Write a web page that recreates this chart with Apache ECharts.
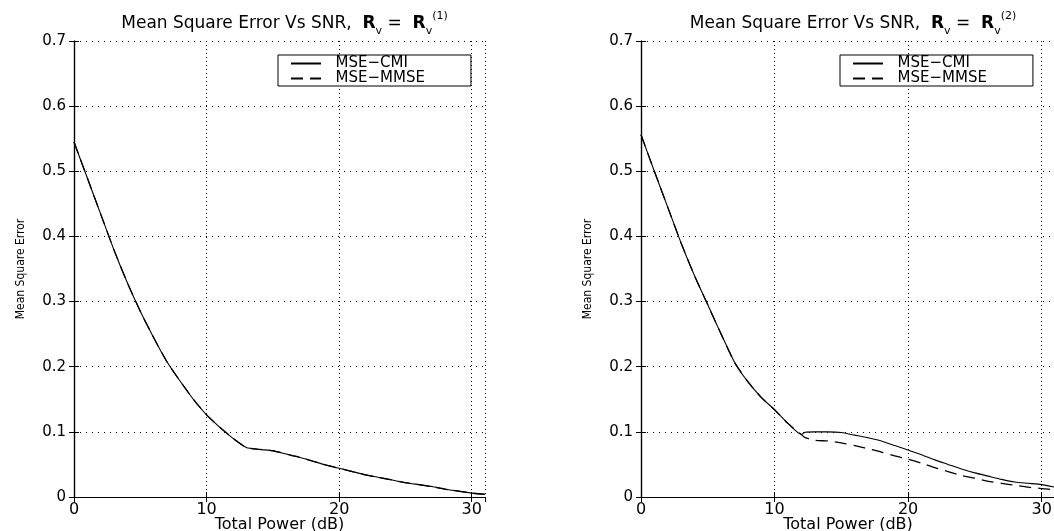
<!DOCTYPE html>
<html>
<head>
<meta charset="utf-8">
<script src="https://cdn.jsdelivr.net/npm/echarts@6/dist/echarts.min.js"></script>
<style>
  html, body { margin: 0; padding: 0; background: #fff; }
  #main { width: 1054px; height: 531px; }
</style>
</head>
<body>
<div id="main"></div>
<script>
// total power (dB) and MSE values
var dbLeft = [0, 1, 2, 3, 4, 5, 6, 7, 8, 9, 10, 11, 12, 13, 14, 15, 16, 17, 18, 19, 20, 21, 22, 23, 24, 25, 26, 27, 28, 29, 30, 31];
var cmiLeft = [0.545, 0.49, 0.435, 0.38, 0.33, 0.285, 0.245, 0.208, 0.178, 0.15, 0.126, 0.107, 0.09, 0.076, 0.073, 0.071, 0.066, 0.061, 0.055, 0.049, 0.044, 0.039, 0.034, 0.030, 0.026, 0.022, 0.019, 0.016, 0.012, 0.009, 0.006, 0.004];
var mmseLeft = [0.545, 0.49, 0.435, 0.38, 0.33, 0.285, 0.245, 0.208, 0.178, 0.15, 0.126, 0.107, 0.09, 0.076, 0.073, 0.071, 0.066, 0.061, 0.055, 0.049, 0.044, 0.039, 0.034, 0.030, 0.026, 0.022, 0.019, 0.016, 0.012, 0.009, 0.006, 0.004];

var dbRight = [0, 1, 2, 3, 4, 5, 6, 7, 8, 9, 10, 11, 12, 12.3, 13, 14, 15, 16, 17, 18, 19, 20, 21, 22, 23, 24, 25, 26, 27, 28, 29, 30, 31];
var cmiRight = [0.556, 0.5, 0.445, 0.39, 0.34, 0.295, 0.25, 0.207, 0.177, 0.153, 0.134, 0.113, 0.096, 0.0995, 0.1, 0.1, 0.099, 0.095, 0.091, 0.086, 0.079, 0.072, 0.065, 0.057, 0.05, 0.043, 0.037, 0.032, 0.027, 0.023, 0.021, 0.019, 0.015];
var mmseRight = [0.556, 0.5, 0.445, 0.39, 0.34, 0.295, 0.25, 0.207, 0.177, 0.153, 0.134, 0.113, 0.096, 0.091, 0.087, 0.086, 0.083, 0.079, 0.074, 0.069, 0.063, 0.058, 0.052, 0.045, 0.039, 0.033, 0.029, 0.024, 0.021, 0.018, 0.015, 0.013, 0.011];

var xTicks = [0, 10, 20, 30];
var seriesNames = ['MSE\u2212CMI', 'MSE\u2212MMSE'];
var supLabels = ['(1)', '(2)'];

var FONT = "'DejaVu Sans', sans-serif";

function pairs(xs, ys) {
  return xs.map(function (x, i) { return [x, ys[i]]; });
}

var chart = echarts.init(document.getElementById('main'), null, { renderer: 'canvas' });

var grids = [
  { left: 74, top: 41, width: 411, height: 456, outerBoundsMode: 'none', containLabel: false },
  { left: 641, top: 41, width: 414, height: 456, outerBoundsMode: 'none', containLabel: false }
];

var xAxes = [], yAxes = [], titles = [], legends = [], series = [];

grids.forEach(function (g, k) {
  // bottom x axis with labels + dotted grid
  xAxes.push({
    gridIndex: k, type: 'value', min: 0, max: 31, interval: 10,
    name: 'Total Power (dB)', nameLocation: 'middle', nameGap: 20, nameMoveOverlap: false,
    nameTextStyle: { color: '#000', fontFamily: FONT, fontSize: 16 },
    axisLine: { lineStyle: { color: '#000', width: 1.2 } },
    axisTick: { inside: true, length: 5, lineStyle: { color: '#000' } },
    axisLabel: {
      color: '#000', fontFamily: FONT, fontSize: 16, margin: 5, showMaxLabel: false,
      formatter: function (v) { return xTicks.indexOf(v) >= 0 ? String(v) : ''; }
    },
    splitLine: { show: true, lineStyle: { color: '#000', type: [1, 3], width: 1 } }
  });
  // top x axis: box edge + ticks only
  xAxes.push({
    gridIndex: k, type: 'value', min: 0, max: 31, interval: 10, position: 'top',
    axisLine: { lineStyle: { color: '#000', width: 1.2 } },
    axisTick: { inside: true, length: 5, lineStyle: { color: '#000' } },
    axisLabel: { show: false }, splitLine: { show: false }
  });
  yAxes.push({
    gridIndex: k, type: 'value', min: 0, max: 0.7, interval: 0.1,
    name: 'Mean Square Error', nameLocation: 'middle', nameGap: 47, nameMoveOverlap: false,
    nameTextStyle: { color: '#000', fontFamily: "'Liberation Sans Narrow', 'DejaVu Sans Condensed', sans-serif", fontSize: 12 },
    axisLine: { lineStyle: { color: '#000', width: 1.2 } },
    axisTick: { inside: true, length: 5, lineStyle: { color: '#000' } },
    axisLabel: {
      color: '#000', fontFamily: FONT, fontSize: 15, margin: 8,
      formatter: function (v) { return v === 0 ? '0' : v.toFixed(1); }
    },
    splitLine: { show: true, lineStyle: { color: '#000', type: [1, 5], width: 1 } }
  });
  yAxes.push({
    gridIndex: k, type: 'value', min: 0, max: 0.7, interval: 0.1, position: 'right',
    axisLine: { lineStyle: { color: '#000', width: 1.2 } },
    axisTick: { inside: true, length: 5, lineStyle: { color: '#000' } },
    axisLabel: { show: false }, splitLine: { show: false }
  });

  titles.push({
    left: g.left + g.width / 2, top: 6, textAlign: 'center',
    text: '{t|Mean Square Error Vs SNR,  }{b|R}{sub|v}{t| =  }{b|R}{sub|v}{sup|' + supLabels[k] + '}',
    textStyle: {
      fontWeight: 'normal',
      rich: {
        t: { fontFamily: FONT, fontSize: 17, fontWeight: 'normal', color: '#000', lineHeight: 26 },
        b: { fontFamily: FONT, fontSize: 17, fontWeight: 'bold', color: '#000', lineHeight: 26 },
        sub: { fontFamily: FONT, fontSize: 11, fontWeight: 'normal', color: '#000', verticalAlign: 'bottom', lineHeight: 14 },
        sup: { fontFamily: FONT, fontSize: 11, fontWeight: 'normal', color: '#000', verticalAlign: 'top', lineHeight: 14 }
      }
    }
  });

  legends.push({
    data: seriesNames, orient: 'vertical',
    left: k === 0 ? 278 : 840, top: 55,
    backgroundColor: '#fff', borderColor: '#000', borderWidth: 1, borderRadius: 0,
    padding: [1, 46, 0, 12], itemGap: 0, itemWidth: 30, itemHeight: 14,
    selectedMode: false,
    itemStyle: { opacity: 0 },
    formatter: function (n) { return '  ' + n; },
    textStyle: { color: '#000', fontFamily: FONT, fontSize: 15 }
  });
});

var panels = [
  { db: dbLeft, cmi: cmiLeft, mmse: mmseLeft },
  { db: dbRight, cmi: cmiRight, mmse: mmseRight }
];

panels.forEach(function (p, k) {
  series.push({
    name: seriesNames[0], type: 'line', xAxisIndex: k * 2, yAxisIndex: k * 2,
    data: pairs(p.db, p.cmi), symbol: 'none', smooth: 0.2,
    lineStyle: { color: '#000', width: 1.1 }, itemStyle: { color: '#000' },
    z: 3, silent: true
  });
  series.push({
    name: seriesNames[1], type: 'line', xAxisIndex: k * 2, yAxisIndex: k * 2,
    data: pairs(p.db, p.mmse), symbol: 'none', smooth: 0.2,
    lineStyle: { color: '#000', width: 1.3, type: [12, 7] }, itemStyle: { color: '#000' },
    z: 3, silent: true
  });
});

chart.setOption({
  backgroundColor: '#fff',
  animation: false,
  title: titles,
  legend: legends,
  grid: grids,
  xAxis: xAxes,
  yAxis: yAxes,
  series: series
});
</script>
</body>
</html>
